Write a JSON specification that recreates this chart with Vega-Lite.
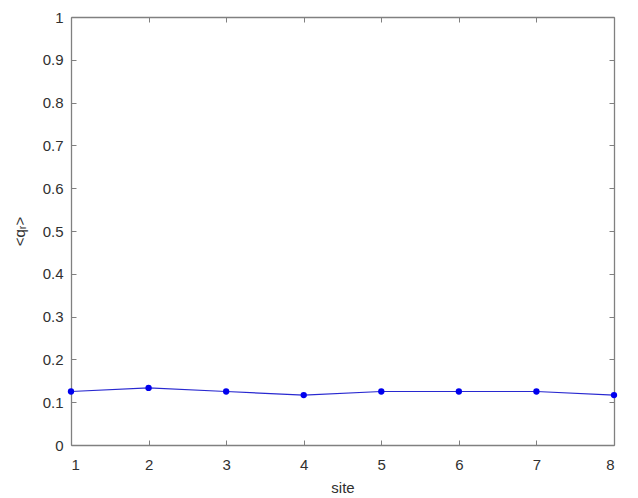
{
  "$schema": "https://vega.github.io/schema/vega-lite/v6.json",
  "width": 543,
  "height": 428,
  "autosize": {"type": "none"},
  "padding": {"left": 71, "top": 17, "right": 24, "bottom": 53},
  "background": "white",
  "config": {
    "view": {"stroke": null},
    "font": "Liberation Sans",
    "axis": {
      "grid": false,
      "domainColor": "#808080",
      "tickColor": "#808080",
      "domainWidth": 1.3,
      "tickWidth": 1,
      "tickSize": -5,
      "labelFont": "Liberation Sans",
      "labelFontSize": 15,
      "labelColor": "#303030",
      "titleFont": "Liberation Sans",
      "titleFontSize": 15,
      "titleFontWeight": "normal",
      "titleColor": "#303030"
    }
  },
  "data": {
    "values": [
      {"site": 1, "q": 0.125},
      {"site": 2, "q": 0.1333},
      {"site": 3, "q": 0.125},
      {"site": 4, "q": 0.1167},
      {"site": 5, "q": 0.125},
      {"site": 6, "q": 0.125},
      {"site": 7, "q": 0.125},
      {"site": 8, "q": 0.1167}
    ]
  },
  "layer": [
    {
      "mark": {"type": "line", "color": "#2828d0", "strokeWidth": 1.2},
      "encoding": {
        "x": {
          "field": "site",
          "type": "quantitative",
          "scale": {"domain": [1, 8], "nice": false, "zero": false},
          "axis": {"values": [1, 2, 3, 4, 5, 6, 7, 8], "title": "site", "labelPadding": 17, "titlePadding": 8, "format": "d"}
        },
        "y": {
          "field": "q",
          "type": "quantitative",
          "scale": {"domain": [0, 1], "nice": false},
          "axis": {"values": [0, 0.1, 0.2, 0.3, 0.4, 0.5, 0.6, 0.7, 0.8, 0.9, 1], "title": "<qᵣ>", "labelPadding": 13, "titlePadding": 15, "labelExpr": "datum.value == 0 ? '0' : datum.value == 1 ? '1' : format(datum.value, '.1f')"}
        }
      }
    },
    {
      "mark": {"type": "point", "filled": true, "color": "#0000ee", "size": 40, "opacity": 1},
      "encoding": {
        "x": {"field": "site", "type": "quantitative", "axis": null},
        "y": {"field": "q", "type": "quantitative", "axis": null}
      }
    },
    {
      "mark": {"type": "point", "opacity": 0},
      "encoding": {
        "x": {"field": "site", "type": "quantitative", "axis": {"orient": "top", "values": [1, 2, 3, 4, 5, 6, 7, 8], "labels": false, "labelExpr": "''", "title": null}},
        "y": {"field": "q", "type": "quantitative", "axis": {"orient": "right", "values": [0, 0.1, 0.2, 0.3, 0.4, 0.5, 0.6, 0.7, 0.8, 0.9, 1], "labels": false, "labelExpr": "''", "title": null}}
      }
    }
  ],
  "resolve": {"axis": {"x": "independent", "y": "independent"}}
}
